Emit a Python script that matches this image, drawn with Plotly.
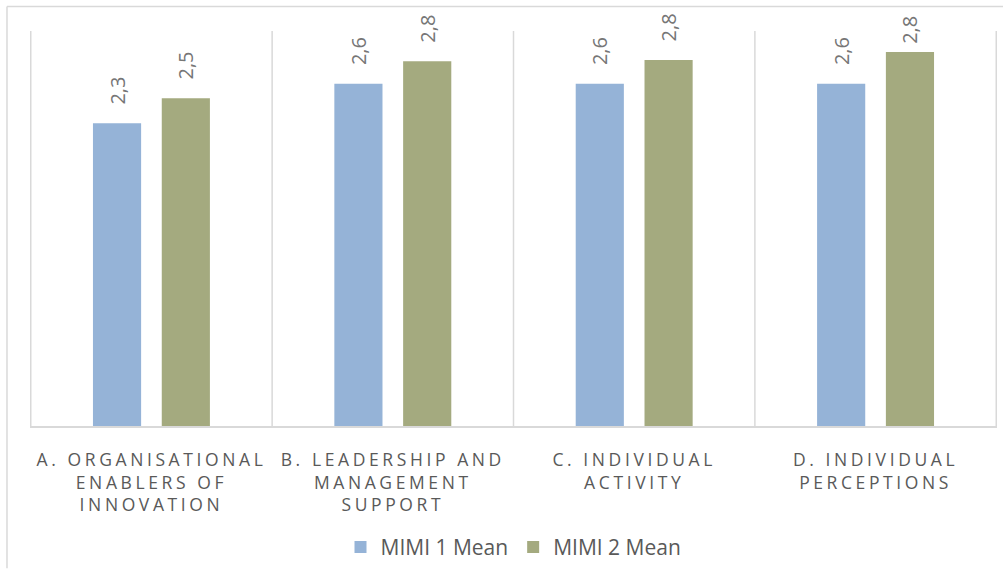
import plotly.graph_objects as go

categories = [
    "A. ORGANISATIONAL<br>ENABLERS OF<br>INNOVATION",
    "B. LEADERSHIP AND<br>MANAGEMENT<br>SUPPORT",
    "C. INDIVIDUAL<br>ACTIVITY",
    "D. INDIVIDUAL<br>PERCEPTIONS",
]
mimi1_values = [2.30, 2.60, 2.60, 2.60]
mimi2_values = [2.49, 2.77, 2.78, 2.84]
mimi1_labels = ["2,3", "2,6", "2,6", "2,6"]
mimi2_labels = ["2,5", "2,8", "2,8", "2,8"]

BLUE = "#95B3D7"
GREEN = "#A4AA7F"
LABEL = "#767676"
TICK = "#595959"
GRID = "#D9D9D9"
FONT = "Open Sans"
NB = "\u00a0"  # non-breaking spaces give a visual gap between bar top and rotated label
mimi1_pads = [3, 3, 3, 3]
mimi2_pads = [3, 3, 3, 1]

fig = go.Figure()
for name, vals, labels, pads, color in [
    ("MIMI 1 Mean", mimi1_values, mimi1_labels, mimi1_pads, BLUE),
    ("MIMI 2 Mean", mimi2_values, mimi2_labels, mimi2_pads, GREEN),
]:
    fig.add_trace(go.Bar(
        x=categories, y=vals, name=name,
        marker=dict(color=color, line=dict(width=0)),
        text=[NB * p + t for p, t in zip(pads, labels)], textposition="outside", textangle=-90,
        textfont=dict(family=FONT, size=20, color=LABEL), cliponaxis=False,
    ))

shapes = []
# category separators
for i in range(len(categories) + 1):
    shapes.append(dict(type="line", xref="x", yref="paper", x0=i - 0.5, x1=i - 0.5,
                       y0=0, y1=1, line=dict(color=GRID, width=1.5), layer="below"))
# outer chart border (top and left)
shapes.append(dict(type="line", xref="paper", yref="paper", x0=-0.0238, x1=1.01,
                   y0=1.0623, y1=1.0623, line=dict(color=GRID, width=1.5), layer="below"))
shapes.append(dict(type="line", xref="paper", yref="paper", x0=-0.0238, x1=-0.0238,
                   y0=-0.36, y1=1.0623, line=dict(color=GRID, width=1.5), layer="below"))

fig.update_layout(
    width=1003, height=574,
    margin=dict(l=30, r=6, t=31, b=142),
    paper_bgcolor="white", plot_bgcolor="white",
    barmode="group", bargap=0.43, bargroupgap=0.30,
    showlegend=True,
    legend=dict(orientation="h", x=0.5, xanchor="center", y=-0.307, yanchor="middle",
                font=dict(family=FONT, size=21, color=TICK), itemwidth=30,
                traceorder="normal"),
    xaxis=dict(tickangle=0, tickfont=dict(family=FONT, size=17.5, color=TICK),
               showline=True, linecolor=GRID, linewidth=1.5, showgrid=False,
               ticks="", ticklen=0, ticklabelstandoff=17),
    yaxis=dict(range=[0, 3.0], visible=False),
    shapes=shapes,
    font=dict(family=FONT),
)

post = ("var s=document.createElement('style');"
        "s.innerHTML='body{margin:0 !important;padding:0} .xtick text{letter-spacing:3.6px}';"
        "document.head.appendChild(s);")
fig.write_html("out.html", post_script=post, config={"displayModeBar": False})
